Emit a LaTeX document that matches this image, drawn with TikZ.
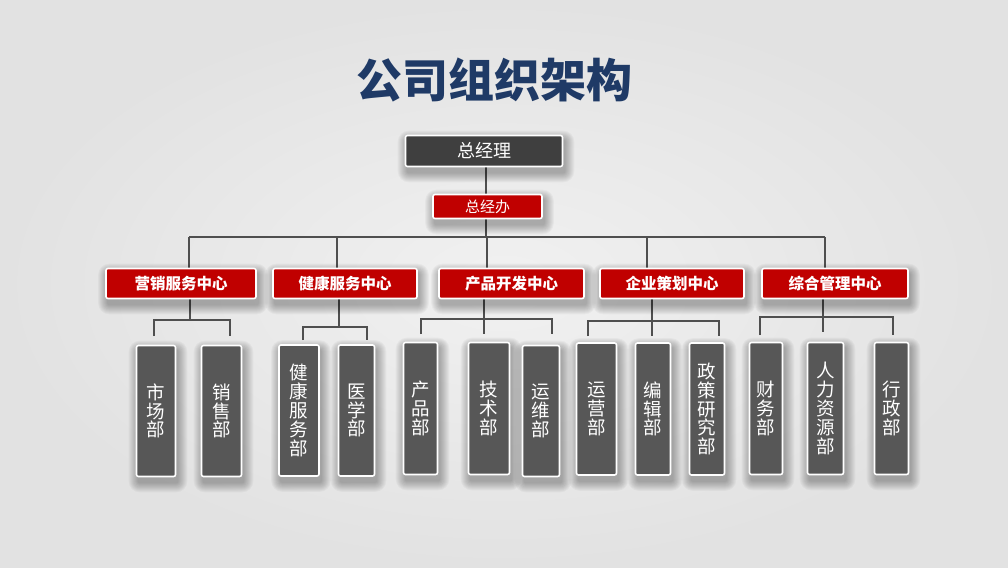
\documentclass[tikz,border=0pt]{standalone}
\usepackage{fontspec}
\setmainfont{Noto Sans CJK SC}
\usetikzlibrary{calc}
\pgfdeclarelayer{bg}
\pgfdeclarelayer{shad}
\pgfsetlayers{bg,shad,main}
\definecolor{bgin}{HTML}{F1F1F1}
\definecolor{bgout}{HTML}{E2E2E2}
\definecolor{titleblue}{HTML}{1F3A66}
\definecolor{darkbox}{HTML}{3F3F3F}
\definecolor{redbox}{HTML}{C00000}
\definecolor{subbox}{HTML}{575757}
\definecolor{linegray}{HTML}{4F4F4F}
\newcommand\softshadow[1]{%
  \begin{pgfonlayer}{shad}
  \foreach \r in {0,1,...,9} {%
    \fill[black, opacity=0.032, rounded corners=2pt+\r pt]
      ($(#1.south west)+(-\r+2, \r+6)$) rectangle ($(#1.north east)+(\r+2, -\r+5)$);}
  \end{pgfonlayer}}
\begin{document}
\begin{tikzpicture}[x=1pt,y=-1pt,
  box/.style={draw=white, line width=1.6pt, rounded corners=2pt, inner sep=0pt, text=white},
  gmbox/.style={box, fill=darkbox, font=\fontsize{18}{20}\selectfont},
  redb/.style={box, fill=redbox, font=\bfseries\fontsize{15.5}{18}\selectfont},
  subb/.style={box, fill=subbox, font=\fontsize{18.5}{18.8}\selectfont, align=center},
  conn/.style={draw=linegray, line width=1.1pt}]
\begin{pgfonlayer}{bg}
\path[use as bounding box, inner color=bgin, outer color=bgout] (0,0) rectangle (1008,567);
\end{pgfonlayer}

\node[font=\bfseries\fontsize{46}{50}\selectfont, text=titleblue] (title) at (494,80) {公司组织架构};

\node[gmbox, minimum width=157pt, minimum height=31pt] (gm) at (484,151) {总经理};
\node[redb, minimum width=109pt, minimum height=24pt, font=\fontsize{15}{17}\selectfont] (gb) at (487.5,206.5) {总经办};

\node[redb, minimum width=150pt, minimum height=30pt] (c1) at (181,283.5) {营销服务中心};
\node[redb, minimum width=144pt, minimum height=30pt] (c2) at (345,283.5) {健康服务中心};
\node[redb, minimum width=145pt, minimum height=30pt] (c3) at (511.5,283.5) {产品开发中心};
\node[redb, minimum width=144pt, minimum height=30pt] (c4) at (672,283.5) {企业策划中心};
\node[redb, minimum width=146pt, minimum height=30pt] (c5) at (835,283.5) {综合管理中心};

\node[subb, minimum width=39pt, minimum height=131pt] (s11) at (156,411) {市\\场\\部};
\node[subb, minimum width=40pt, minimum height=131pt] (s12) at (221.5,411) {销\\售\\部};
\node[subb, minimum width=40pt, minimum height=131pt] (s21) at (299,410.5) {健\\康\\服\\务\\部};
\node[subb, minimum width=36pt, minimum height=131pt] (s22) at (356.5,410.5) {医\\学\\部};
\node[subb, minimum width=34pt, minimum height=132pt] (s31) at (420.5,408.5) {产\\品\\部};
\node[subb, minimum width=41pt, minimum height=132pt] (s32) at (489,408.5) {技\\术\\部};
\node[subb, minimum width=37pt, minimum height=131pt] (s33) at (541,411) {运\\维\\部};
\node[subb, minimum width=40pt, minimum height=132pt] (s41) at (596.5,409) {运\\营\\部};
\node[subb, minimum width=35pt, minimum height=132pt] (s42) at (653,409) {编\\辑\\部};
\node[subb, minimum width=35pt, minimum height=132pt] (s43) at (707,409) {政\\策\\研\\究\\部};
\node[subb, minimum width=33pt, minimum height=132pt] (s51) at (766,408.5) {财\\务\\部};
\node[subb, minimum width=36pt, minimum height=132pt] (s52) at (825.5,408.5) {人\\力\\资\\源\\部};
\node[subb, minimum width=34pt, minimum height=132pt] (s53) at (891.5,408.5) {行\\政\\部};

\foreach \n in {gm,gb,c1,c2,c3,c4,c5,s11,s12,s21,s22,s31,s32,s33,s41,s42,s43,s51,s52,s53} {\softshadow{\n}}

\coordinate (b0) at (486,237);
\coordinate (d1) at (189,237);
\coordinate (d2) at (337,237);
\coordinate (d3) at (487,237);
\coordinate (d4) at (647,237);
\coordinate (d5) at (825,237);
\coordinate (t1) at (190,320);  \coordinate (a1l) at (154,336); \coordinate (a1r) at (230,336);
\coordinate (t2) at (339,327);  \coordinate (a2l) at (303,340); \coordinate (a2r) at (367,340);
\coordinate (t3) at (484,319);  \coordinate (e3) at (484,334);  \coordinate (a3l) at (421,334); \coordinate (a3r) at (552,334);
\coordinate (t4) at (652,321);  \coordinate (e4) at (652,336);  \coordinate (a4l) at (588,336); \coordinate (a4r) at (719,336);
\coordinate (t5) at (823,317);  \coordinate (e5) at (823,332);  \coordinate (a5l) at (760,335); \coordinate (a5r) at (893,335);

\begin{pgfonlayer}{bg}
\draw[conn] (gm.south -| b0) -- (b0);
\draw[conn] (d1) -- (d5);
\foreach \k in {1,...,5} {\draw[conn] (d\k) -- (c\k.north -| d\k);}
\draw[conn] (c1.south -| t1) -- (t1);
\draw[conn] (a1l) |- (t1) -| (a1r);
\draw[conn] (c2.south -| t2) -- (t2);
\draw[conn] (a2l) |- (t2) -| (a2r);
\draw[conn] (c3.south -| t3) -- (e3);
\draw[conn] (a3l) |- (t3) -| (a3r);
\draw[conn] (c4.south -| t4) -- (e4);
\draw[conn] (a4l) |- (t4) -| (a4r);
\draw[conn] (c5.south -| t5) -- (e5);
\draw[conn] (a5l) |- (t5) -| (a5r);
\end{pgfonlayer}
\end{tikzpicture}
\end{document}
